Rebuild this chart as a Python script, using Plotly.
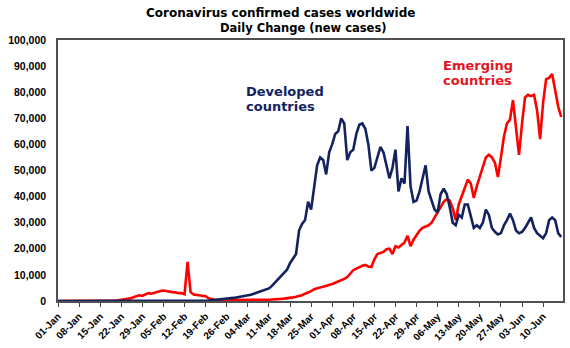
import pandas as pd
import plotly.graph_objects as go

start_date = "2020-01-01"

# Daily new confirmed cases, developed countries (Jan 1 .. Jun 16, 2020)
developed = [
    0, 0, 0, 0, 0, 0, 0, 0, 0, 0,
    0, 0, 0, 0, 0, 0, 0, 0, 0, 0,
    0, 0, 10, 10, 10, 10, 10, 10, 10, 20,
    20, 20, 20, 20, 20, 30, 30, 30, 30, 30,
    30, 40, 40, 50, 50, 50, 60, 60, 80, 100,
    200, 300, 400, 500, 600, 700, 800, 1000, 1100, 1300,
    1500, 1700, 1900, 2100, 2400, 2800, 3200, 3500, 3800, 4300,
    4800, 5800, 7000, 8300, 9500, 10500, 12000, 14500, 16500, 18000,
    27000, 29500, 31000, 38000, 35000, 44000, 52000, 55000, 54000, 48500,
    57000, 60000, 64000, 65000, 70000, 68000, 54000, 57000, 58000, 64000,
    67500, 68000, 66000, 60000, 50000, 51000, 55000, 59000, 57000, 52000,
    47000, 51000, 58000, 42000, 47000, 45000, 67000, 44000, 38000, 38500,
    42000, 47000, 52000, 42000, 38000, 35000, 34000, 41000, 43000, 41000,
    36000, 30000, 29000, 33000, 32000, 37000, 37000, 32000, 28000, 29000,
    28000, 30000, 35000, 33000, 28000, 26500, 25500, 26000, 29000, 31000,
    33500, 31000, 27000, 26000, 26500, 28000, 30000, 32000, 28000, 26000,
    25000, 24000, 26000, 31000, 32000, 31000, 26000, 24500,
]

# Daily new confirmed cases, emerging countries (Jan 1 .. Jun 16, 2020)
emerging = [
    0, 0, 0, 0, 0, 0, 0, 0, 0, 0,
    0, 0, 0, 0, 0, 0, 0, 50,
    100, 200, 300, 450, 600, 800,
    1000, 1400, 1900, 2200, 2000, 2500,
    3000, 2800, 3200, 3400, 3800, 4000,
    3700, 3600, 3400, 3300, 3000, 3000, 2600,
    15000,
    3400, 2500, 2300, 2200, 2000, 1800, 1000, 600,
    500, 400, 400, 500, 400, 400, 300, 300,
    300, 300, 300, 300, 400, 400, 400, 500,
    500, 500, 500, 600, 600, 700, 800, 900,
    1000, 1200, 1400, 1600, 1900, 2200, 2800, 3200,
    3800, 4500, 5000, 5200, 5500, 5800, 6000, 6500,
    7000, 7400, 7800, 8500, 9200, 10500, 11800, 12400,
    13000, 13500, 13800, 13200, 13000, 16000, 18000, 18500,
    18800, 19800, 20000, 18000, 21000, 20500, 21500, 22400,
    25000, 21000, 23500, 25500, 27000, 28000, 28500, 29000,
    30000, 32000, 34000, 36500, 38000, 39000, 38500, 35500,
    31000, 37000, 40000, 43000, 46500, 45000, 39500, 44000,
    48000, 52000, 55000, 56000, 55000, 53000, 47500, 55000,
    63000, 68000, 69500, 77000, 66000, 56000, 68000, 78000,
    79000, 78500, 79000, 73000, 62000, 76000, 85000, 85500,
    87000, 80000, 74500, 70500,
]

tick_labels = [
    "01-Jan", "08-Jan", "15-Jan", "22-Jan", "29-Jan", "05-Feb", "12-Feb",
    "19-Feb", "26-Feb", "04-Mar", "11-Mar", "18-Mar", "25-Mar", "01-Apr",
    "08-Apr", "15-Apr", "22-Apr", "29-Apr", "06-May", "13-May", "20-May",
    "27-May", "03-Jun", "10-Jun",
]

dates = pd.date_range(start_date, periods=len(developed), freq="D")
tick_vals = pd.date_range(start_date, periods=len(tick_labels), freq="7D")

BLUE = "#13235F"
RED = "#FF0000"
TEXT_RED = "#E8141E"
FONT = "Liberation Sans, Arial, sans-serif"
WIDE = "DejaVu Sans, Liberation Sans, sans-serif"

fig = go.Figure()
fig.add_trace(go.Scatter(x=dates, y=emerging, mode="lines",
                         line=dict(color=RED, width=2.6), name="Emerging countries"))
fig.add_trace(go.Scatter(x=dates, y=developed, mode="lines",
                         line=dict(color=BLUE, width=2.6), name="Developed countries"))

x_end = pd.Timestamp(start_date) + pd.Timedelta(hours=167.6 * 24)


def label(text, x, y, size, color, family=WIDE, anchor="left"):
    return dict(text=text, xref="paper", yref="paper", x=x, y=y,
                xanchor=anchor, yanchor="middle", showarrow=False,
                font=dict(family=family, size=size, weight="bold", color=color))


fig.update_layout(
    width=570, height=348,
    margin=dict(l=58, r=5, t=40, b=40),
    paper_bgcolor="white", plot_bgcolor="white",
    showlegend=False,
    font=dict(family=FONT, color="black"),
    xaxis=dict(
        range=[pd.Timestamp(start_date), x_end],
        tickmode="array", tickvals=tick_vals, ticktext=tick_labels,
        tickangle=-45, ticks="outside", ticklen=4, tickcolor="#404040",
        tickfont=dict(family=FONT, size=10, weight="bold", color="black"),
        showgrid=False, zeroline=False,
        showline=True, linecolor="#505050", linewidth=1.5, mirror=True,
    ),
    yaxis=dict(
        range=[0, 100000], dtick=10000, tickformat=",",
        tickfont=dict(family=FONT, size=10.5, weight="bold", color="black"),
        ticks="", ticklabelstandoff=8,
        showgrid=False, zeroline=False,
        showline=True, linecolor="#505050", linewidth=1.5, mirror=True,
    ),
    annotations=[
        label("Coronavirus confirmed cases worldwide", 0.44, 1.104, 12, "black", anchor="center"),
        label("Daily Change (new cases)", 0.487, 1.046, 11.5, "black", anchor="center"),
        label("Developed", 0.369, 0.804, 13, BLUE),
        label("countries", 0.369, 0.746, 13, BLUE),
        label("Emerging", 0.759, 0.903, 13, TEXT_RED),
        label("countries", 0.759, 0.845, 13, TEXT_RED),
    ],
)

fig.write_html("out.html")
